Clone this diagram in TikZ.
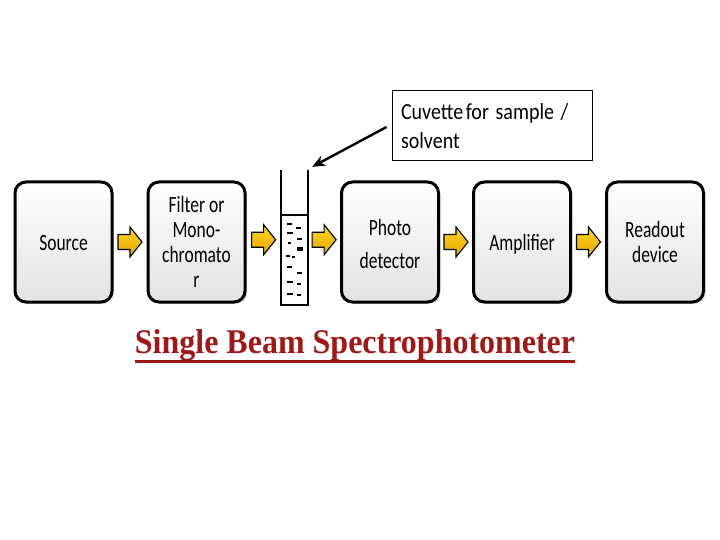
\documentclass[tikz,border=0pt]{standalone}
\usepackage{fontspec}
\usepackage{graphicx}
\setmainfont{Carlito}
\newfontfamily\titlefont{Liberation Serif}
\usetikzlibrary{arrows.meta,shadows,calc}
\definecolor{titlered}{RGB}{158,26,26}
\definecolor{ytop}{RGB}{255,214,40}
\definecolor{ybot}{RGB}{230,165,0}
\newcommand\tallc[2]{\raisebox{-3pt}[\height][\depth]{\scalebox{1}[#1]{\begin{tabular}{@{}c@{}}#2\end{tabular}}}}
\newcommand\talll[2]{\raisebox{-3pt}[\height][\depth]{\scalebox{1}[#1]{\begin{tabular}{@{}l@{}}#2\end{tabular}}}}
\tikzset{
  stage/.style={draw=black, line width=3pt, rounded corners=11pt,
    minimum width=97pt, minimum height=120pt, inner sep=0pt,
    top color=white, bottom color=gray!22, align=center,
    font=\fontsize{17.5}{18.8}\selectfont,
    drop shadow={opacity=0.25, shadow xshift=2pt, shadow yshift=-2pt}},
  yarrow/.pic={\draw[draw=black, line width=1.1pt, line join=miter,
      top color=ytop, bottom color=ybot]
      (-12,-7.5) -- (0,-7.5) -- (0,-15) -- (12,0) -- (0,15) -- (0,7.5) -- (-12,7.5) -- cycle;},
}
\begin{document}
\begin{tikzpicture}[x=1pt,y=-1pt]
\useasboundingbox[fill=white] (0,0) rectangle (720,540);

% stages
\node[stage] (src) at (63.5,242) {\tallc{1.33}{Source}};
\node[stage] (flt) at (196.5,242) {\tallc{1.33}{Filter or\\Mono-\\chromato\\r}};
\node[minimum width=27pt, minimum height=135pt, inner sep=0pt] (cuv) at (294.5,237.5) {};
\node[stage, font=\fontsize{17.5}{24.8}\selectfont] (pd) at (390,242) {\tallc{1.33}{Photo\\detector}};
\node[stage] (amp) at (522,242) {\tallc{1.33}{Amplifier}};
\node[stage] (rd) at (655,242) {\tallc{1.33}{Readout\\device}};

% cuvette
\draw[line width=1.8pt] (cuv.north west) -- (cuv.south west) -- (cuv.south east) -- (cuv.north east);
\draw[line width=1.8pt] ($(cuv.north west)+(0,45)$) -- ($(cuv.north east)+(0,45)$);
\foreach \a/\b/\y/\w in {287/292/224/2.8, 296/301/228/2.8, 287/293/233/2.8, 297/302/239/2.8,
  288/291/243/2.8, 297/303/249/3.4, 286/290/256/2.8, 292/295/257/2.8, 287/292/267/2.8,
  297/302/273/2.8, 287/293/282/2.8, 297/301/284/2.8, 287/293/294/2.8, 297/301/295/2.8}
  \draw[line width=\w pt] (\a,\y) -- (\b,\y);

% yellow arrows between stages
\path ($(src.east)!0.5!(flt.west)$) pic {yarrow};
\path ($(flt.east)!0.5!(cuv.west)$) pic {yarrow};
\path ($(cuv.east)!0.5!(pd.west)$) pic {yarrow};
\path ($(pd.east)!0.5!(amp.west)$) pic {yarrow};
\path ($(amp.east)!0.5!(rd.west)$) pic {yarrow};

% callout
\node[draw=black, line width=0.9pt, minimum width=200pt, minimum height=70pt,
  text width=182pt, inner xsep=9pt, align=left,
  font=\fontsize{20}{25.8}\selectfont] (call) at (492,125) {\talll{1.15}{Cuvette\hspace{2.5pt}for sample /\\solvent}};
\draw[line width=2.4pt, -{Stealth[length=13pt,width=11pt]}]
  ($(call.west)+(-5,2)$) -- ($(cuv.north east)+(4,-3)$);

% title
\node[anchor=base, inner sep=0pt, text=titlered,
  font=\titlefont\bfseries\fontsize{32}{36}\selectfont] (title) at (355,353) {\scalebox{1}[1.08]{Single Beam Spectrophotometer}};
\draw[titlered, line width=3pt] ($(title.base west)+(0,8.5)$) -- ($(title.base east)+(0,8.5)$);
\end{tikzpicture}
\end{document}
